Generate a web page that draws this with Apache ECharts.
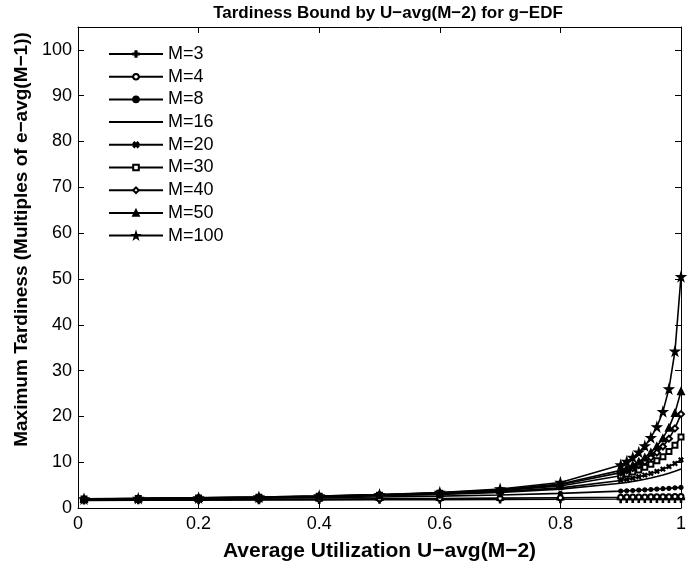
<!DOCTYPE html>
<html>
<head>
<meta charset="utf-8">
<script src="https://cdn.jsdelivr.net/npm/echarts@6/dist/echarts.min.js"></script>
<style>
html, body { margin: 0; padding: 0; background: #fff; }
#chart { width: 689px; height: 567px; }
</style>
</head>
<body>
<div id="chart"></div>
<script>
// utilization points (x)
var uAvg = [0.01, 0.1, 0.2, 0.3, 0.4, 0.5, 0.6, 0.7, 0.8, 0.9,
            0.91, 0.92, 0.93, 0.94, 0.95, 0.96, 0.97, 0.98, 0.99, 1.0];

// tardiness, one array per M
var m3   = [1.67, 1.69, 1.71, 1.74, 1.77, 1.80, 1.83, 1.87, 1.91, 1.95, 1.96, 1.96, 1.97, 1.97, 1.98, 1.98, 1.99, 1.99, 2.00, 2.00];
var m4   = [1.75, 1.79, 1.83, 1.88, 1.94, 2.00, 2.07, 2.15, 2.25, 2.36, 2.38, 2.39, 2.40, 2.42, 2.43, 2.44, 2.46, 2.47, 2.49, 2.50];
var m8   = [1.88, 1.95, 2.03, 2.13, 2.25, 2.40, 2.59, 2.84, 3.19, 3.69, 3.76, 3.82, 3.89, 3.97, 4.04, 4.13, 4.21, 4.30, 4.40, 4.50];
var m16  = [1.95, 2.03, 2.14, 2.27, 2.44, 2.67, 2.97, 3.42, 4.13, 5.41, 5.60, 5.81, 6.03, 6.28, 6.56, 6.86, 7.20, 7.58, 8.01, 8.50];
var m20  = [1.96, 2.04, 2.16, 2.30, 2.48, 2.73, 3.07, 3.57, 4.39, 6.00, 6.25, 6.52, 6.83, 7.17, 7.55, 7.99, 8.48, 9.05, 9.72, 10.50];
var m30  = [1.98, 2.07, 2.19, 2.34, 2.54, 2.81, 3.20, 3.79, 4.82, 7.04, 7.42, 7.84, 8.32, 8.88, 9.53, 10.29, 11.21, 12.33, 13.72, 15.50];
var m40  = [1.98, 2.08, 2.20, 2.36, 2.57, 2.86, 3.27, 3.91, 5.06, 7.72, 8.20, 8.74, 9.37, 10.11, 11.00, 12.08, 13.42, 15.13, 17.39, 20.50];
var m50  = [1.99, 2.08, 2.21, 2.38, 2.59, 2.88, 3.31, 3.99, 5.22, 8.21, 8.75, 9.39, 10.14, 11.04, 12.14, 13.50, 15.24, 17.55, 20.76, 25.50];
var m100 = [2.00, 2.10, 2.23, 2.40, 2.63, 2.94, 3.40, 4.15, 5.58, 9.39, 10.15, 11.06, 12.17, 13.56, 15.35, 17.72, 21.04, 26.00, 34.22, 50.50];

var xTicks = [0, 0.2, 0.4, 0.6, 0.8, 1];
var yTicks = [0, 10, 20, 30, 40, 50, 60, 70, 80, 90, 100];

var font = 'Liberation Sans, Arial, Helvetica, sans-serif';
var black = '#000';
var starPath = 'path://M50,0L61,35L98,35L68,57L79,91L50,70L21,91L32,57L2,35L39,35Z';
var plusPath = 'path://M4,0H6V4H10V6H6V10H4V6H0V4H4Z';

function pairs(ys) {
    var out = [];
    for (var i = 0; i < uAvg.length; i++) out.push([uAvg[i], ys[i]]);
    return out;
}

function curve(name, ys, symbol, size, rotate) {
    return {
        name: name,
        type: 'line',
        data: pairs(ys),
        symbol: symbol,
        symbolSize: size,
        symbolRotate: rotate || 0,
        showSymbol: symbol !== 'none',
        lineStyle: { color: black, width: 1.6 },
        itemStyle: { color: black, borderColor: black, borderWidth: 1.2 },
        emphasis: { disabled: true }
    };
}

var myChart = echarts.init(document.getElementById('chart'), null, { renderer: 'canvas' });

var tickCommon = { inside: true, length: 6, lineStyle: { color: black, width: 1 } };

myChart.setOption({
    animation: false,
    backgroundColor: '#fff',
    title: {
        text: 'Tardiness Bound by U\u2212avg(M\u22122) for g\u2212EDF',
        left: 383,
        top: 0,
        textAlign: 'center',
        textStyle: { fontFamily: font, fontSize: 17, fontWeight: 'bold', color: black }
    },
    grid: { left: 78, right: 3, top: 27, bottom: 56 },
    legend: {
        orient: 'vertical',
        left: 103,
        top: 40,
        itemWidth: 54,
        itemHeight: 7,
        itemGap: 4.7,
        textStyle: { fontFamily: font, fontSize: 18, color: black },
        data: ['M=3', 'M=4', 'M=8',
               { name: 'M=16', itemStyle: { opacity: 0 } },
               'M=20', 'M=30', 'M=40', 'M=50', 'M=100']
    },
    xAxis: [{
        type: 'value',
        min: xTicks[0],
        max: xTicks[xTicks.length - 1],
        interval: 0.2,
        name: 'Average Utilization U\u2212avg(M\u22122)',
        nameLocation: 'middle',
        nameGap: 33,
        nameTextStyle: { fontFamily: font, fontSize: 21, fontWeight: 'bold', color: black },
        axisLine: { onZero: false, lineStyle: { color: black, width: 1 } },
        axisTick: tickCommon,
        splitLine: { show: false },
        axisLabel: { fontFamily: font, fontSize: 18, color: black, margin: 7 }
    }, {
        type: 'value',
        position: 'top',
        min: 0, max: 1, interval: 0.2,
        axisLine: { show: true, onZero: false, lineStyle: { color: black, width: 1 } },
        axisTick: tickCommon,
        axisLabel: { show: false },
        splitLine: { show: false }
    }],
    yAxis: [{
        type: 'value',
        min: yTicks[0],
        max: 105,
        interval: 10,
        name: 'Maximum Tardiness (Multiples of e\u2212avg(M\u22121))',
        nameLocation: 'middle',
        nameGap: 45,
        nameTextStyle: { fontFamily: font, fontSize: 19, fontWeight: 'bold', color: black, padding: [0, 0, 0, 56] },
        axisLine: { onZero: false, lineStyle: { color: black, width: 1 } },
        axisTick: tickCommon,
        splitLine: { show: false },
        axisLabel: { fontFamily: font, fontSize: 18, color: black, margin: 6, showMaxLabel: false }
    }, {
        type: 'value',
        position: 'right',
        min: 0, max: 105, interval: 10,
        axisLine: { show: true, onZero: false, lineStyle: { color: black, width: 1 } },
        axisTick: tickCommon,
        axisLabel: { show: false },
        splitLine: { show: false }
    }],
    series: [
        curve('M=3', m3, plusPath, 7),
        curve('M=4', m4, 'emptyCircle', 5),
        curve('M=8', m8, 'circle', 4),
        curve('M=16', m16, 'none', 0),
        curve('M=20', m20, plusPath, 5, 45),
        curve('M=30', m30, 'emptyRect', 5),
        curve('M=40', m40, 'emptyDiamond', 6),
        curve('M=50', m50, 'triangle', 7),
        curve('M=100', m100, starPath, 9)
    ]
});
</script>
</body>
</html>
